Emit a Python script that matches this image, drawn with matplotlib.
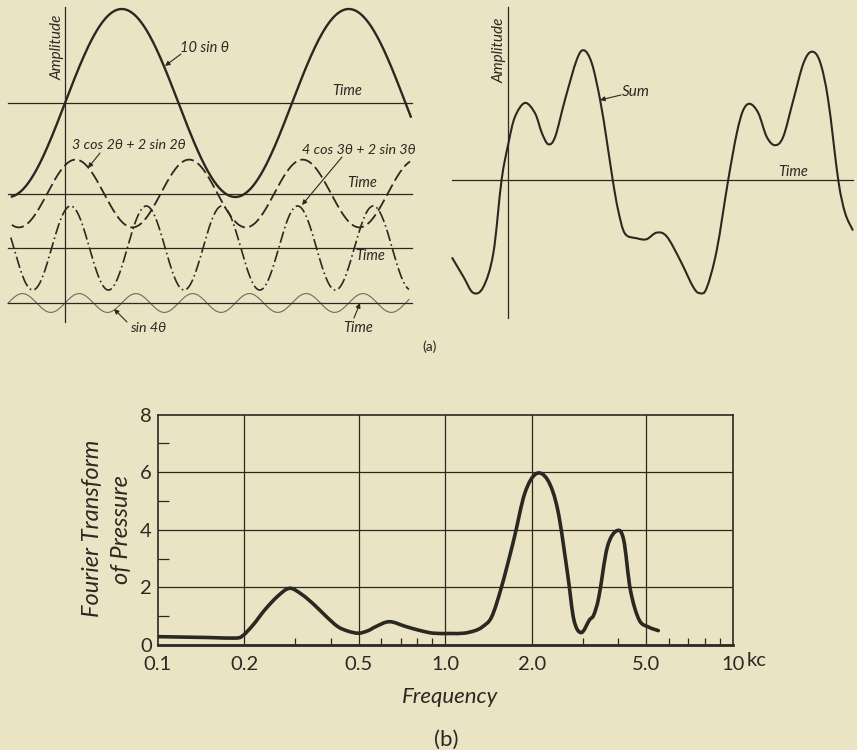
import numpy as np
import matplotlib
matplotlib.use('Agg')
import matplotlib.pyplot as plt
from matplotlib.path import Path
from matplotlib.patches import PathPatch, FancyArrowPatch
from matplotlib.ticker import FixedLocator, NullFormatter

plt.rcParams['font.family'] = ['Lato', 'DejaVu Sans']

# ---------------- data ----------------
# (a) harmonic components: a*cos(nθ) + b*sin(nθ), as printed on the chart
comp_labels = ['10 sin θ', '3 cos 2θ + 2 sin 2θ', '4 cos 3θ + 2 sin 3θ', 'sin 4θ']
comp_cos = [0, 3, 4, 0]
comp_sin = [10, 2, 2, 1]
comp_harm = [1, 2, 3, 4]

# (a) sum curve (θ in rad, amplitude)
sum_theta = [-1.54, -1.23, -0.96, -0.68, -0.40, -0.17, 0.02, 0.20, 0.48, 0.76,
             0.95, 1.13, 1.32, 1.59, 1.92, 2.12, 2.34, 2.57, 2.75, 2.92,
             3.07, 3.26, 3.59, 3.86, 4.14, 4.42, 4.79, 5.16, 5.35, 5.53,
             5.81, 6.13, 6.37, 6.55, 6.74, 6.97, 7.20, 7.43, 7.66, 7.94,
             8.22, 8.45, 8.68, 8.91, 9.19, 9.38, 9.59]
sum_amp = [-8.3, -10.3, -12.0, -11.4, -7.8, 0.0, 3.9, 6.7, 8.2, 7.1,
           5.0, 3.8, 4.6, 8.5, 12.8, 13.8, 12.4, 8.5, 4.3, 0.0,
           -3.2, -5.7, -6.2, -6.3, -5.6, -6.0, -8.5, -11.4, -12.05, -11.5,
           -7.5, 0.0, 5.0, 7.45, 8.1, 7.1, 4.6, 3.7, 4.6, 8.5,
           12.4, 13.65, 12.6, 8.5, 0.0, -3.5, -5.3]

# (b) Fourier transform of pressure
freq_kc = [0.100, 0.150, 0.185, 0.197, 0.215, 0.236, 0.262, 0.288, 0.318, 0.351,
           0.385, 0.423, 0.460, 0.500, 0.540, 0.574, 0.640, 0.730, 0.820, 0.910,
           1.040, 1.160, 1.270, 1.350, 1.450, 1.570, 1.730, 1.890, 2.070, 2.270,
           2.460, 2.660, 2.800, 2.970, 3.170, 3.280, 3.420, 3.660, 3.950, 4.170,
           4.400, 4.720, 5.100, 5.500]
ft_value = [0.29, 0.26, 0.24, 0.31, 0.70, 1.22, 1.70, 1.97, 1.75, 1.39,
            1.00, 0.64, 0.48, 0.41, 0.50, 0.64, 0.81, 0.64, 0.50, 0.41,
            0.40, 0.41, 0.50, 0.64, 0.98, 2.03, 3.65, 5.27, 5.95, 5.73,
            4.69, 2.49, 0.87, 0.43, 0.87, 1.04, 1.68, 3.41, 3.97, 3.65,
            1.91, 0.87, 0.62, 0.50]
x_ticks = [0.1, 0.2, 0.5, 1.0, 2.0, 5.0, 10.0]
x_tick_labels = ['0.1', '0.2', '0.5', '1.0', '2.0', '5.0', '10']
x_minor = [0.3, 0.4, 0.6, 0.7, 0.8, 0.9, 3, 4, 6, 7, 8, 9]
y_ticks = [0, 2, 4, 6, 8]
y_minor = [1, 3, 5, 7]

# ---------------- layout ----------------
W, H = 857, 750
BG = '#ebe4c4'
INK = '#2b2822'

fig = plt.figure(figsize=(W / 100, H / 100), dpi=100)
fig.patch.set_facecolor(BG)


def box(x0, y0, x1, y1):
    return fig.add_axes([x0 / W, 1 - y1 / H, (x1 - x0) / W, (y1 - y0) / H])


def fp(x, y):
    return (x / W, 1 - y / H)


def txt(x, y, s, size=9.5, style='italic', ha='center', va='center', rot=0):
    fig.text(x / W, 1 - y / H, s, fontsize=size, style=style, ha=ha, va=va,
             rotation=rot, color=INK)


def arrow(x0, y0, x1, y1):
    fig.add_artist(FancyArrowPatch(
        fp(x0, y0), fp(x1, y1), transform=fig.transFigure,
        arrowstyle='-|>', mutation_scale=7, lw=0.8, color=INK,
        shrinkA=0, shrinkB=0))


def smooth_line(ax, xs, ys, logx=False, **kw):
    """Draw a smooth (Catmull-Rom style Bezier) line through the read points."""
    x = np.log10(np.asarray(xs, float)) if logx else np.asarray(xs, float)
    P = np.column_stack([x, np.asarray(ys, float)])
    n = len(P)
    verts = [P[0]]
    codes = [Path.MOVETO]
    for i in range(n - 1):
        p0 = P[max(i - 1, 0)]
        p1 = P[i]
        p2 = P[i + 1]
        p3 = P[min(i + 2, n - 1)]
        verts += [p1 + (p2 - p0) / 6, p2 - (p3 - p1) / 6, p2]
        codes += [Path.CURVE4] * 3
    V = np.array(verts)
    if logx:
        V[:, 0] = 10 ** V[:, 0]
    patch = PathPatch(Path(V, codes), facecolor='none', capstyle='round',
                      joinstyle='round', **kw)
    ax.add_patch(patch)


# ---- (a) left: components ----
PXR, PXA = 36.13, 9.4
axL = box(0, 0, 430, 340)
axL.set_xlim((0 - 65) / PXR, (430 - 65) / PXR)
axL.set_ylim((103 - 340) / PXA, 103 / PXA)
axL.axis('off')
rows = [103, 193.5, 248, 303]
styles = [dict(lw=1.7, color=INK, ls='-'),
          dict(lw=1.3, color=INK, ls=(0, (7, 2.5))),
          dict(lw=1.2, color=INK, ls=(0, (7, 2, 1, 2))),
          dict(lw=0.8, color='#6e6a5f', ls='-')]
ranges = [(-1.47, 9.57), (-1.47, 9.55), (-1.50, 9.52), (-1.58, 9.52)]
for a, b, n, r, st, (t0, t1) in zip(comp_cos, comp_sin, comp_harm, rows, styles, ranges):
    off = -(r - 103) / PXA
    th = np.linspace(t0, t1, 600)
    axL.plot(th, off + a * np.cos(n * th) + b * np.sin(n * th), **st)
    axL.plot([(8 - 65) / PXR, (412 - 65) / PXR], [off, off], color=INK, lw=0.9)
axL.plot([0, 0], [(103 - 7) / PXA, (103 - 322) / PXA], color=INK, lw=0.9)

txt(57, 47, 'Amplitude', size=11, rot=90)
txt(180, 48, comp_labels[0], size=10.5, ha='left')
arrow(181, 54, 165, 66)
txt(347, 91, 'Time', size=10.5)
txt(72, 145, comp_labels[1], size=10.3, ha='left')
arrow(100, 153, 88, 168)
txt(302, 150, comp_labels[2], size=10.3, ha='left')
arrow(342, 157, 302, 205)
txt(362, 183, 'Time', size=10.5)
txt(370, 256, 'Time', size=10.5)
txt(130, 328, comp_labels[3], size=10.3, ha='left')
arrow(127, 322, 114, 309)
txt(358, 328, 'Time', size=10.5)
arrow(354, 318, 360, 303)
txt(430, 347, '(a)', size=10, style='normal')

# ---- (a) right: sum ----
PXR2 = 35.97
axR = box(440, 0, 857, 340)
axR.set_xlim((440 - 507.7) / PXR2, (857 - 507.7) / PXR2)
axR.set_ylim((180 - 340) / PXA, 180 / PXA)
axR.axis('off')
smooth_line(axR, sum_theta, sum_amp, edgecolor=INK, lw=1.5)
axR.plot([(452 - 507.7) / PXR2, (853 - 507.7) / PXR2], [0, 0], color=INK, lw=0.9)
axR.plot([0, 0], [(180 - 7) / PXA, (180 - 318) / PXA], color=INK, lw=0.9)
txt(499, 50, 'Amplitude', size=11, rot=90)
txt(622, 92, 'Sum', size=11, ha='left')
arrow(621, 95, 600, 100)
txt(793, 172, 'Time', size=10.5)

# ---- (b) Fourier transform ----
axB = box(157.5, 414.7, 733, 645)
axB.set_facecolor('none')
axB.set_xscale('log')
axB.set_xlim(0.1, 10)
axB.set_ylim(0, 8)
smooth_line(axB, freq_kc, ft_value, logx=True, edgecolor=INK, lw=2.6, zorder=3)
for xv in x_ticks[1:-1]:
    axB.axvline(xv, color=INK, lw=0.9, zorder=1)
for yv in y_ticks[1:-1]:
    axB.axhline(yv, color=INK, lw=0.9, zorder=1)
for s in ['left', 'right', 'top']:
    axB.spines[s].set_linewidth(1.2)
    axB.spines[s].set_color(INK)
axB.spines['bottom'].set_linewidth(2.0)
axB.spines['bottom'].set_color(INK)
axB.xaxis.set_major_locator(FixedLocator(x_ticks))
axB.set_xticklabels(x_tick_labels)
axB.xaxis.set_minor_locator(FixedLocator(x_minor))
axB.xaxis.set_minor_formatter(NullFormatter())
axB.yaxis.set_major_locator(FixedLocator(y_ticks))
axB.yaxis.set_minor_locator(FixedLocator(y_minor))
axB.tick_params(axis='x', which='major', length=0, pad=8, labelsize=14.5, colors=INK)
axB.tick_params(axis='x', which='minor', direction='in', length=5, width=0.9, color=INK)
axB.tick_params(axis='y', which='major', length=0, pad=4, labelsize=14.5, colors=INK)
axB.tick_params(axis='y', which='minor', direction='in', length=8, width=0.9, color=INK)
txt(747, 661, 'kc', size=14.5, style='normal', ha='left')
txt(92, 528, 'Fourier Transform', size=17, rot=90)
txt(122, 530, 'of Pressure', size=17, rot=90)
txt(450, 697, 'Frequency', size=16, style='italic')
txt(446, 740, '(b)', size=16, style='normal')

fig.savefig('out.png', dpi=100, facecolor=BG)
